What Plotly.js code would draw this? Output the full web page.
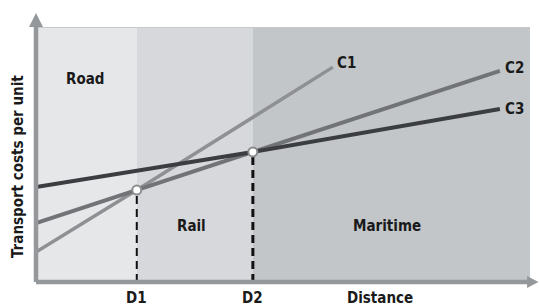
<!DOCTYPE html>
<html><head><meta charset="utf-8">
<script src="https://cdn.plot.ly/plotly-3.0.1.min.js"></script>
<style>html,body{margin:0;padding:0;background:#fff;}#chart{width:539px;height:306px;}</style>
</head><body><div id="chart"></div>
<script>
// Data (abstract units: distance 0-100, cost 0-100)
const seriesNames = ["C1", "C2", "C3"];
const seriesX = [[0, 20.4, 60.1], [0, 20.4, 43.9, 93.9], [0, 43.9, 93.9]];
const seriesY = [[11.8, 36.2, 84.6], [23.2, 36.2, 51.2, 83.1], [37.4, 51.2, 68.1]];
const breakNames = ["D1", "D2"];
const breakX = [20.4, 43.9];
const breakY = [36.2, 51.2];
const regionNames = ["Road", "Rail", "Maritime"];
const regionStart = [0, 20.4, 43.9];
const regionEnd = [20.4, 43.9, 100];
const xTitle = "Distance";
const yTitle = "Transport costs per unit";

const FONT = "DejaVu Sans Condensed, Liberation Sans Narrow, Arial Narrow, sans-serif";
const lineColors = ["#8e9093", "#717377", "#3b3d41"];
const lineWidths = [3.5, 4, 4];
const regionColors = ["#e6e7e9", "#d6d8db", "#c3c6c9"];
const regionLabelPos = [[10, 80], [31.5, 22], [71, 22]];
const seriesLabelShift = [[2, 4], [3, 3], [3, 0]];

const traces = [];
seriesNames.forEach((n, i) => {
  traces.push({x: seriesX[i], y: seriesY[i], mode: "lines", name: n,
    line: {color: lineColors[i], width: lineWidths[i]}, hoverinfo: "skip"});
});
// dashed verticals
breakX.forEach((bx, i) => {
  traces.push({x: [bx, bx], y: [0, breakY[i]], mode: "lines",
    line: {color: "#111", width: i === 0 ? 2 : 3, dash: "8px,5px"}, hoverinfo: "skip"});
});
traces.push({x: breakX, y: breakY, mode: "markers",
  marker: {size: 9, color: "#fff", line: {color: "#8a8c8f", width: 2}}, hoverinfo: "skip"});

const shapes = [];
regionNames.forEach((r, i) => {
  shapes.push({type: "rect", xref: "x", yref: "y", x0: regionStart[i], x1: regionEnd[i], y0: 0, y1: 100,
    fillcolor: regionColors[i], line: {width: 0}, layer: "below"});
});
// top edge strip
shapes.push({type: "line", xref: "paper", yref: "paper", x0: 0, x1: 1, y0: 1, y1: 1, line: {color: "#c8c9cb", width: 2}, layer: "below"});
// axes
const axisColor = "#95989b";
shapes.push({type: "line", xref: "paper", yref: "paper", x0: 0, x1: 0, y0: 0, y1: 1.01, line: {color: axisColor, width: 4.5}});
shapes.push({type: "line", xref: "paper", yref: "paper", x0: 0, x1: 0.995, y0: 0, y1: 0, line: {color: axisColor, width: 4.5}});
shapes.push({type: "path", xref: "paper", yref: "paper", path: "M -0.0142 1.004 L 0.0142 1.004 L 0 1.059 Z", fillcolor: axisColor, line: {width: 0}});
shapes.push({type: "path", xref: "paper", yref: "paper", path: "M 0.994 -0.024 L 0.994 0.024 L 1.017 0 Z", fillcolor: axisColor, line: {width: 0}});

const annotations = [];
const txt = (s) => ({family: FONT, size: s, color: "#1a1a1a", weight: "bold"});
regionNames.forEach((r, i) => {
  annotations.push({x: regionLabelPos[i][0], y: regionLabelPos[i][1], xref: "x", yref: "y", text: "<b>" + r + "</b>",
    showarrow: false, font: txt(15)});
});
seriesNames.forEach((n, i) => {
  const k = seriesX[i].length - 1;
  annotations.push({x: seriesX[i][k], y: seriesY[i][k], xref: "x", yref: "y", text: "<b>" + n + "</b>",
    showarrow: false, xanchor: "left", xshift: seriesLabelShift[i][0], yshift: seriesLabelShift[i][1], font: txt(15)});
});
breakNames.forEach((b, i) => {
  annotations.push({x: breakX[i], y: 0, xref: "x", yref: "paper", yanchor: "top", yshift: -5, text: "<b>" + b + "</b>",
    showarrow: false, font: txt(15)});
});
annotations.push({x: 69.6, y: 0, xref: "x", yref: "paper", yanchor: "top", yshift: -5, text: "<b>" + xTitle + "</b>",
  showarrow: false, font: txt(15)});
annotations.push({x: 0, y: 0.453, xref: "paper", yref: "paper", xanchor: "center", yanchor: "middle", xshift: -18, textangle: -90, text: "<b>" + yTitle + "</b>",
  showarrow: false, font: txt(15)});

const layout = {
  width: 539, height: 306,
  margin: {l: 36, r: 9, t: 28, b: 24, pad: 0},
  paper_bgcolor: "#ffffff", plot_bgcolor: "rgba(0,0,0,0)",
  showlegend: false,
  xaxis: {range: [0, 100], showgrid: false, zeroline: false, showline: false, showticklabels: false, fixedrange: true},
  yaxis: {range: [0, 100], showgrid: false, zeroline: false, showline: false, showticklabels: false, fixedrange: true},
  shapes: shapes, annotations: annotations
};
Plotly.newPlot("chart", traces, layout, {displayModeBar: false, staticPlot: true});
</script></body></html>
